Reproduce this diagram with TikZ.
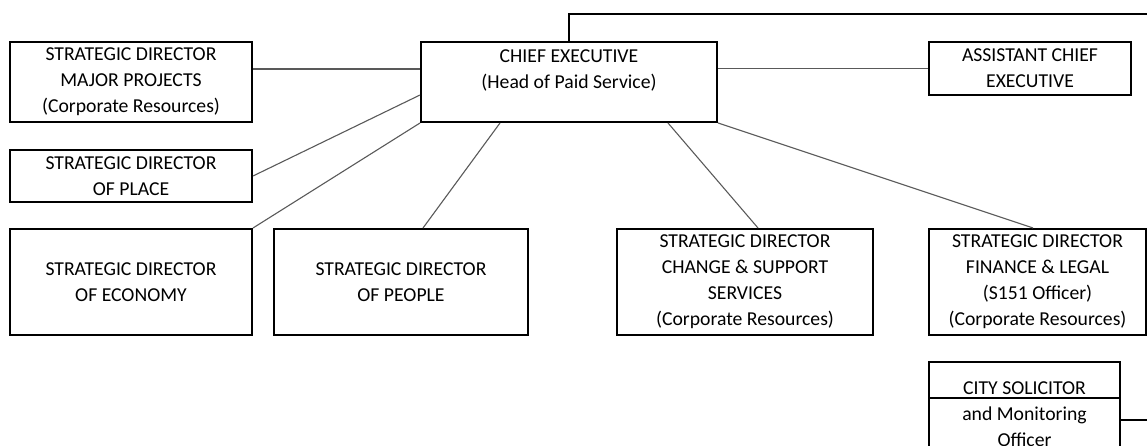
\documentclass[tikz,border=0pt]{standalone}
\usepackage{fontspec}
\setmainfont{Carlito}
\usepackage{tikz}
\usetikzlibrary{positioning}
\tikzset{
x=1pt, y=-1pt, % one unit per pixel of the chart
post/.style={draw=black, line width=2pt, inner sep=0pt, align=center, text=black, font=\fontsize{19.7}{26}\selectfont}, % a post box
link/.style={draw=black!65, line width=1.1pt}, % line between posts
}
\begin{document}
\begin{tikzpicture}
\clip (0,0) rectangle (1147,446);
\node[post, minimum width=296pt, minimum height=80pt] (ce) at (569,82) {CHIEF EXECUTIVE\\(Head of Paid Service)\\\mbox{}};
\node[post, minimum width=242pt, minimum height=80pt] (major) at (131,82) {STRATEGIC DIRECTOR\\MAJOR PROJECTS\\(Corporate Resources)};
\node[post, minimum width=202pt, minimum height=53pt] (asst) at (1030,68.5) {ASSISTANT CHIEF\\EXECUTIVE};
\node[post, minimum width=242pt, minimum height=52pt] (place) at (131,176) {STRATEGIC DIRECTOR\\OF PLACE};
\node[post, minimum width=242pt, minimum height=106pt] (economy) at (131,282) {STRATEGIC DIRECTOR\\OF ECONOMY};
\node[post, minimum width=254pt, minimum height=106pt] (people) at (401,282) {STRATEGIC DIRECTOR\\OF PEOPLE};
\node[post, minimum width=256pt, minimum height=106pt] (change) at (745,282) {STRATEGIC DIRECTOR\\CHANGE \& SUPPORT\\SERVICES\\(Corporate Resources)};
\node[post, minimum width=217pt, minimum height=106pt] (finance) at (1037.5,282) {STRATEGIC DIRECTOR\\FINANCE \& LEGAL\\(S151 Officer)\\(Corporate Resources)};
\node[post, minimum width=191pt, minimum height=104pt] (solicitor) at (1024.5,414) {CITY SOLICITOR\\and Monitoring\\Officer};
\coordinate (topright) at (1147,14);
\coordinate (solright) at (1147,420);
% lines
\draw[link] ([yshift=13pt]major.east) -- ([yshift=13pt]ce.west);
\draw[link] (ce.east |- asst.west) -- (asst.west);
\draw[link] (place.east) -- ([yshift=-13pt]ce.west);
\draw[link] (economy.north east) -- (ce.south west);
\draw[link] ([xshift=22pt]people.north) -- ([xshift=-69pt]ce.south);
\draw[link] ([xshift=13pt]change.north) -- ([xshift=99pt]ce.south);
\draw[link] ([xshift=-4.5pt]finance.north) -- (ce.south east);
\draw[link, draw=black] (ce.north) |- (topright);
\draw[link, draw=black] (solicitor.east |- solright) -- (solright);
\draw[line width=1.1pt] (solicitor.west |- 0,398) -- (solicitor.east |- 0,398);
\end{tikzpicture}
\end{document}
